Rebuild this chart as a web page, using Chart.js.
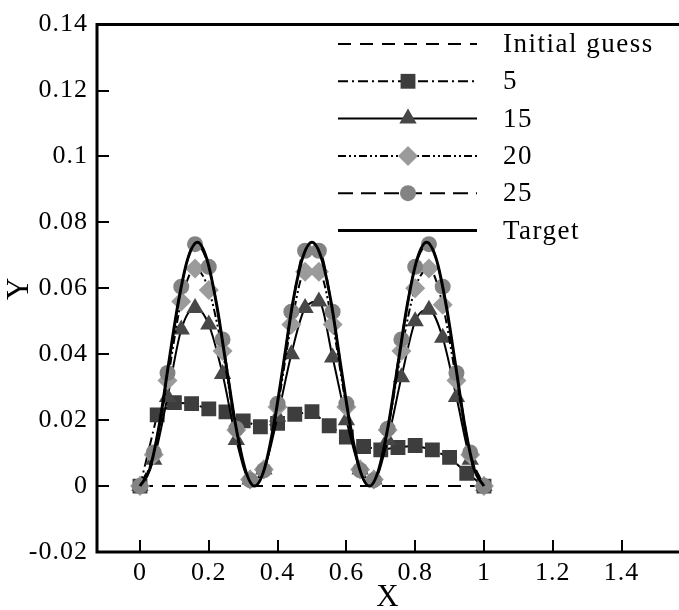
<!DOCTYPE html>
<html>
<head>
<meta charset="utf-8">
<script src="https://cdn.jsdelivr.net/npm/chart.js@4/dist/chart.umd.min.js"></script>
<style>
  html, body { margin: 0; padding: 0; background: #fff; overflow: hidden; }
  #wrap { width: 679px; height: 610px; }
</style>
</head>
<body>
<div id="wrap"><canvas id="chart" width="679" height="610"></canvas></div>
<script>
// axis ticks
const xTicks = [0, 0.2, 0.4, 0.6, 0.8, 1, 1.2, 1.4];
const yTicks = [-0.02, 0, 0.02, 0.04, 0.06, 0.08, 0.1, 0.12, 0.14];

// series
const labels = ["Initial guess", "5", "15", "20", "25", "Target"];

const xInitial = [0, 1];
const yInitial = [0, 0];

const x5 = [0, 0.05, 0.1, 0.15, 0.2, 0.25, 0.3, 0.35, 0.4, 0.45, 0.5,
            0.55, 0.6, 0.65, 0.7, 0.75, 0.8, 0.85, 0.9, 0.95, 1];
const y5 = [0, 0.0216, 0.0253, 0.025, 0.0234, 0.0225, 0.0198, 0.018, 0.019, 0.0218, 0.0226,
            0.0183, 0.0149, 0.012, 0.011, 0.0117, 0.0123, 0.011, 0.0087, 0.0039, 0];

const xIter = [0, 0.04, 0.08, 0.12, 0.16, 0.2, 0.24, 0.28, 0.32, 0.36, 0.4, 0.44, 0.48,
               0.52, 0.56, 0.6, 0.64, 0.68, 0.72, 0.76, 0.8, 0.84, 0.88, 0.92, 0.96, 1];
const y15 = [0, 0.008, 0.027, 0.0475, 0.054, 0.049, 0.034, 0.014, 0.002, 0.005, 0.021, 0.04, 0.054,
             0.056, 0.039, 0.02, 0.005, 0.002, 0.014, 0.033, 0.05, 0.0535, 0.045, 0.027, 0.008, 0];
const y20 = [0, 0.0095, 0.032, 0.056, 0.066, 0.0595, 0.041, 0.017, 0.002, 0.005, 0.024, 0.049, 0.065,
             0.065, 0.049, 0.024, 0.005, 0.002, 0.017, 0.041, 0.06, 0.066, 0.055, 0.032, 0.0095, 0];
const y25 = [0, 0.0102, 0.0343, 0.0605, 0.0734, 0.0665, 0.0445, 0.0174, 0.0018, 0.0048, 0.025, 0.0529, 0.0714,
             0.0714, 0.0529, 0.025, 0.0048, 0.0018, 0.0174, 0.0445, 0.0665, 0.0734, 0.0605, 0.0343, 0.0102, 0];

const xTarget = [0, 0.028, 0.056, 0.083, 0.111, 0.139, 0.167, 0.194, 0.222, 0.25, 0.278, 0.306,
                 0.333, 0.361, 0.389, 0.417, 0.444, 0.472, 0.5, 0.528, 0.556, 0.583, 0.611, 0.639,
                 0.667, 0.694, 0.722, 0.75, 0.778, 0.806, 0.833, 0.861, 0.889, 0.917, 0.944, 0.972, 1];
const yTarget = [0, 0.005, 0.0185, 0.037, 0.0555, 0.069, 0.074, 0.069, 0.0555, 0.037, 0.0185, 0.005,
                 0, 0.005, 0.0185, 0.037, 0.0555, 0.069, 0.074, 0.069, 0.0555, 0.037, 0.0185, 0.005,
                 0, 0.005, 0.0185, 0.037, 0.0555, 0.069, 0.074, 0.069, 0.0555, 0.037, 0.0185, 0.005, 0];

const pts = (xs, ys) => xs.map((x, i) => ({ x: x, y: ys[i] }));

const serif = "'Liberation Serif', 'Times New Roman', serif";

function drawMarker(ctx, style, r, x, y) {
  ctx.beginPath();
  if (style === "circle") {
    ctx.arc(x, y, r, 0, Math.PI * 2);
  } else if (style === "rect") {
    const s = r * Math.SQRT1_2;
    ctx.rect(x - s, y - s, 2 * s, 2 * s);
  } else if (style === "triangle") {
    for (let k = 0; k < 3; k++) {
      const a = k * 2 * Math.PI / 3;
      const px = x + Math.sin(a) * r, py = y - Math.cos(a) * r;
      if (k === 0) ctx.moveTo(px, py); else ctx.lineTo(px, py);
    }
    ctx.closePath();
  } else if (style === "rectRot") {
    ctx.moveTo(x - r, y);
    ctx.lineTo(x, y - r);
    ctx.lineTo(x + r, y);
    ctx.lineTo(x, y + r);
    ctx.closePath();
  }
  ctx.fill();
}

// slightly wider text, like the original export
const spacingPlugin = {
  id: "spacing",
  beforeDraw(chart) { chart.ctx.letterSpacing = "1px"; },
  afterDraw(chart) { chart.ctx.letterSpacing = "0px"; }
};

// frame + inward ticks
const framePlugin = {
  id: "frame",
  afterDraw(chart) {
    const { ctx, chartArea: a, scales } = chart;
    ctx.save();
    ctx.strokeStyle = "#000";
    ctx.setLineDash([]);
    ctx.lineWidth = 2;
    ctx.beginPath();
    xTicks.forEach(v => {
      const px = Math.round(scales.x.getPixelForValue(v));
      ctx.moveTo(px, a.bottom);
      ctx.lineTo(px, a.bottom - 12);
    });
    yTicks.forEach(v => {
      const py = Math.round(scales.y.getPixelForValue(v));
      ctx.moveTo(a.left, py);
      ctx.lineTo(a.left + 12, py);
    });
    ctx.stroke();
    ctx.lineWidth = 3;
    ctx.beginPath();
    ctx.moveTo(a.right + 2, a.top);
    ctx.lineTo(a.left, a.top);
    ctx.lineTo(a.left, a.bottom);
    ctx.lineTo(a.right + 2, a.bottom);
    ctx.stroke();
    ctx.restore();
  }
};

// legend drawn inside the plot
const legendPlugin = {
  id: "insideLegend",
  afterDraw(chart) {
    const ctx = chart.ctx;
    const x0 = 338, x1 = 477, xm = 408, xt = 503, y0 = 44, dy = 37.3;
    ctx.save();
    chart.data.datasets.forEach((ds, i) => {
      const y = y0 + i * dy;
      ctx.strokeStyle = ds.borderColor;
      ctx.lineWidth = ds.borderWidth;
      ctx.setLineDash(ds.borderDash || []);
      ctx.beginPath();
      ctx.moveTo(x0, y);
      ctx.lineTo(x1, y);
      ctx.stroke();
      ctx.setLineDash([]);
      if (ds.pointRadius > 0) {
        ctx.fillStyle = ds.pointBackgroundColor;
        drawMarker(ctx, ds.pointStyle, ds.pointRadius, xm, y);
      }
      ctx.fillStyle = "#000";
      ctx.font = "27px " + serif;
      ctx.letterSpacing = "1.5px";
      ctx.textBaseline = "middle";
      ctx.textAlign = "left";
      ctx.fillText(ds.label, xt, y + 1);
    });
    ctx.restore();
  }
};

new Chart(document.getElementById("chart"), {
  type: "line",
  data: {
    datasets: [
      {
        label: labels[0], data: pts(xInitial, yInitial),
        borderColor: "#000", borderWidth: 2, borderDash: [13, 9],
        pointRadius: 0, order: 5
      },
      {
        label: labels[1], data: pts(x5, y5),
        borderColor: "#000", borderWidth: 2, borderDash: [10, 4, 2, 4],
        pointStyle: "rect", pointRadius: 10.5,
        pointBackgroundColor: "#3d3d3d", pointBorderColor: "#3d3d3d", pointBorderWidth: 0,
        order: 4
      },
      {
        label: labels[2], data: pts(xIter, y15),
        borderColor: "#000", borderWidth: 2,
        cubicInterpolationMode: "monotone",
        pointStyle: "triangle", pointRadius: 10,
        pointBackgroundColor: "#474747", pointBorderColor: "#474747", pointBorderWidth: 0,
        order: 3
      },
      {
        label: labels[3], data: pts(xIter, y20),
        borderColor: "#000", borderWidth: 2, borderDash: [8, 3, 2, 3, 2, 3],
        cubicInterpolationMode: "monotone",
        pointStyle: "rectRot", pointRadius: 10,
        pointBackgroundColor: "#9b9b9b", pointBorderColor: "#9b9b9b", pointBorderWidth: 0,
        order: 2
      },
      {
        label: labels[4], data: pts(xIter, y25),
        borderColor: "#000", borderWidth: 2, borderDash: [15, 8],
        cubicInterpolationMode: "monotone",
        pointStyle: "circle", pointRadius: 8,
        pointBackgroundColor: "#838383", pointBorderColor: "#838383", pointBorderWidth: 0,
        order: 1
      },
      {
        label: labels[5], data: pts(xTarget, yTarget),
        borderColor: "#000", borderWidth: 3,
        cubicInterpolationMode: "monotone",
        pointRadius: 0, order: 0
      }
    ]
  },
  options: {
    responsive: false,
    animation: false,
    devicePixelRatio: 1,
    layout: { autoPadding: false, padding: { top: 20, left: 0, right: 0, bottom: 0 } },
    plugins: { legend: { display: false }, tooltip: { enabled: false } },
    scales: {
      x: {
        type: "linear", min: -0.125, max: 1.567,
        afterBuildTicks: s => { s.ticks = xTicks.map(v => ({ value: v })); },
        afterFit: s => { s.height = 58; s.paddingRight = 0; s.paddingLeft = 0; },
        grid: { display: false, drawTicks: false },
        border: { display: false },
        ticks: {
          color: "#000", padding: 6, maxRotation: 0, autoSkip: false,
          font: { family: serif, size: 26 },
          callback: v => String(+Number(v).toFixed(4))
        },
        title: {
          display: true, text: "X", color: "#000",
          font: { family: serif, size: 31, lineHeight: 0.8 }, padding: { top: 0, bottom: 0 }
        }
      },
      y: {
        type: "linear", min: -0.02, max: 0.14,
        afterBuildTicks: s => { s.ticks = yTicks.map(v => ({ value: v })); },
        afterFit: s => { s.width = 97; },
        grid: { display: false, drawTicks: false },
        border: { display: false },
        ticks: {
          color: "#000", padding: 9, autoSkip: false,
          font: { family: serif, size: 26 },
          callback: v => String(+Number(v).toFixed(4))
        },
        title: {
          display: true, text: "Y", color: "#000",
          font: { family: serif, size: 31 }, padding: { top: 1, bottom: 0 }
        }
      }
    }
  },
  plugins: [spacingPlugin, framePlugin, legendPlugin]
});
</script>
</body>
</html>
